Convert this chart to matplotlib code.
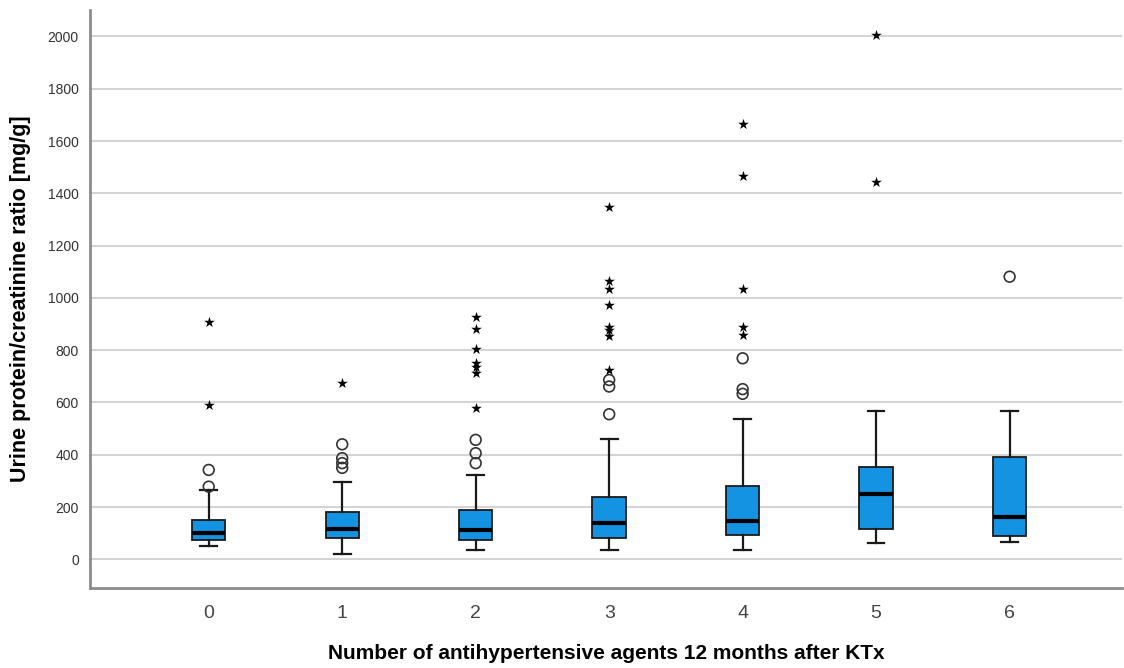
import matplotlib
matplotlib.use("Agg")
import matplotlib.pyplot as plt

plt.rcParams['font.family'] = ['Liberation Sans', 'DejaVu Sans']

groups = [0, 1, 2, 3, 4, 5, 6]

# box statistics (mg/g)
whis_lo = [50, 22, 36, 34, 36, 64, 68]
q1 = [74, 83, 75, 83, 92, 117, 91]
median = [102, 115, 112, 138, 147, 251, 162]
q3 = [150, 182, 189, 238, 281, 352, 393]
whis_hi = [264, 296, 322, 460, 536, 569, 569]

# mild outliers (open circles) and extreme outliers (stars)
circles = [
    [342, 278],
    [440, 387, 368, 350],
    [457, 406, 368],
    [686, 661, 555],
    [769, 651, 633],
    [],
    [1081],
]
stars = [
    [908, 592],
    [674],
    [928, 880, 804, 752, 737, 714, 580],
    [1349, 1065, 1033, 973, 890, 878, 855, 725],
    [1665, 1467, 1033, 890, 858],
    [2005, 1443],
    [],
]

box_color = '#1493e3'

fig = plt.figure(figsize=(11.24, 6.68), dpi=100)
ax = fig.add_axes([0.080, 0.120, 0.918, 0.865])

stats = []
for i in range(len(groups)):
    stats.append(dict(med=median[i], q1=q1[i], q3=q3[i],
                      whislo=whis_lo[i], whishi=whis_hi[i], fliers=[]))

ax.bxp(stats, positions=groups, widths=0.25, showfliers=False,
       patch_artist=True,
       boxprops=dict(facecolor=box_color, edgecolor='#1a1a1a', linewidth=1.3),
       medianprops=dict(color='black', linewidth=3),
       whiskerprops=dict(color='#1a1a1a', linewidth=1.6),
       capprops=dict(color='#1a1a1a', linewidth=1.6),
       capwidths=0.125, zorder=3)

for g, vals in zip(groups, circles):
    if vals:
        ax.scatter([g] * len(vals), vals, s=60, facecolors='none',
                   edgecolors='#333333', linewidths=1.2, zorder=4)
for g, vals in zip(groups, stars):
    if vals:
        ax.scatter([g] * len(vals), vals, s=65, marker='*', color='black',
                   linewidths=0, zorder=4)

ax.set_xlim(-0.89, 6.84)
ax.set_ylim(-109, 2101)
ax.set_yticks(range(0, 2001, 200))
ax.set_xticks(groups)
ax.set_xticklabels([str(g) for g in groups])

ax.yaxis.grid(True, color='#d4d4d4', linewidth=1.5)
ax.set_axisbelow(True)

for side in ['top', 'right']:
    ax.spines[side].set_visible(False)
for side in ['left', 'bottom']:
    ax.spines[side].set_color('#8c8c8c')
    ax.spines[side].set_linewidth(2)

ax.tick_params(axis='y', length=0, labelsize=10, labelcolor='#333333', pad=8)
ax.tick_params(axis='x', length=0, labelsize=14, labelcolor='#444444', pad=12)

ax.set_ylabel('Urine protein/creatinine ratio [mg/g]', fontsize=15.5,
              fontweight='bold', labelpad=12)
ax.set_xlabel('Number of antihypertensive agents 12 months after KTx',
              fontsize=15, fontweight='bold', labelpad=16)

fig.savefig('out.png', dpi=100)
